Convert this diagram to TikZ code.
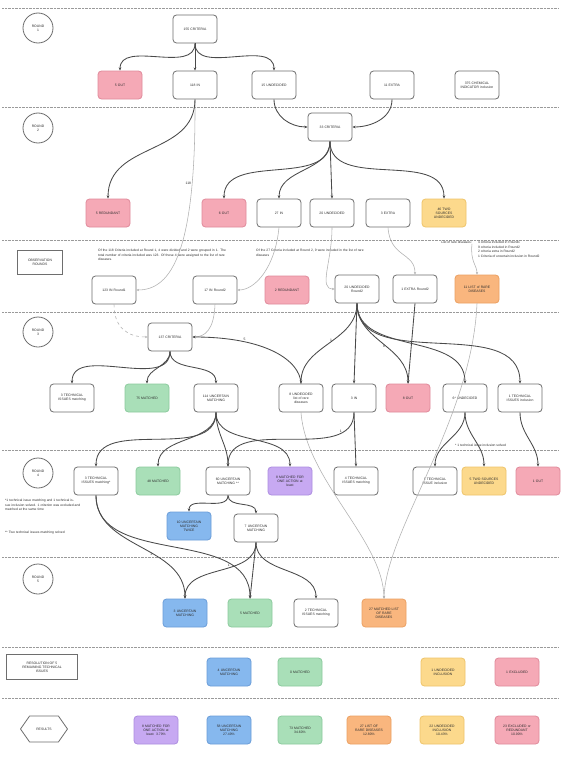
\documentclass[tikz,border=0pt]{standalone}
\usepackage{fontspec}
\setmainfont{Liberation Sans}
\usetikzlibrary{arrows.meta,shapes.symbols}
\definecolor{pinkF}{HTML}{F5A9B6}\definecolor{pinkD}{HTML}{E08A9B}
\definecolor{greenF}{HTML}{A9DFB8}\definecolor{greenD}{HTML}{8CCB9E}
\definecolor{blueF}{HTML}{86B8EE}\definecolor{blueD}{HTML}{6A9DD8}
\definecolor{yellowF}{HTML}{FCD98C}\definecolor{yellowD}{HTML}{EEC46A}
\definecolor{orangeF}{HTML}{F9B67E}\definecolor{orangeD}{HTML}{EBA062}
\definecolor{purpleF}{HTML}{C7A9F2}\definecolor{purpleD}{HTML}{AD8DE0}
\definecolor{boxdraw}{HTML}{6E6E6E}\definecolor{edgec}{HTML}{4A4A4A}
\definecolor{thinc}{HTML}{B0B0B0}\definecolor{sepc}{HTML}{9A9A9A}
\definecolor{textc}{HTML}{2E2E2E}
\begin{document}
\begin{tikzpicture}[x=1pt, y=1pt,
 font=\fontsize{3.4}{4.1}\selectfont,
 box/.style={rectangle, rounded corners=3.5pt, draw=boxdraw, line width=0.8pt, fill=white, minimum width=44pt, minimum height=28pt, text width=41pt, align=center, inner sep=0.5pt, text=textc},
 pinkbox/.style={box, fill=pinkF, draw=pinkD},
 greenbox/.style={box, fill=greenF, draw=greenD},
 bluebox/.style={box, fill=blueF, draw=blueD},
 yellowbox/.style={box, fill=yellowF, draw=yellowD},
 orangebox/.style={box, fill=orangeF, draw=orangeD},
 purplebox/.style={box, fill=purpleF, draw=purpleD},
 rnd/.style={circle, draw=boxdraw, line width=0.8pt, minimum size=30pt, align=center, inner sep=0pt, text=textc},
 sep/.style={draw=sepc, line width=0.9pt, dash pattern=on 0.8pt off 0.6pt},
 edge/.style={draw=edgec, line width=0.85pt, -{Stealth[length=3.2pt,width=2.6pt]}},
 thinedge/.style={draw=thinc, line width=0.55pt, -{Stealth[length=2.6pt,width=2.2pt]}},
 lbl/.style={text=textc, inner sep=0.8pt},
 note/.style={align=left, text=textc, inner sep=0pt, font=\fontsize{3.3}{4.7}\selectfont}
]
\useasboundingbox (0,0) rectangle (562,-784);
\fill[white] (0,0) rectangle (562,-784);
% separators
\foreach \yy in {8,107,240,312,450,557,647,698}{\draw[sep] (2,-\yy) -- (558,-\yy);}

% ROUND 1
\node[rnd] (c1) at (38,-28) {ROUND\\1};
\node[box] (n155) at (195,-29) {155 CRITERIA};
\node[pinkbox] (n5out) at (120,-85) {5 OUT};
\node[box] (n118) at (195,-85) {118 IN};
\node[box] (n15u) at (274,-85) {15 UNDECIDED};
\node[box] (n11e) at (392,-85) {11 EXTRA};
\node[box] (n375) at (477,-85) {375 CHEMICAL\\INDICATOR inclusion};

% ROUND 2
\node[rnd] (c2) at (38,-128) {ROUND\\2};
\node[box] (n33) at (330,-127) {33 CRITERIA};
\node[pinkbox] (n5red) at (108,-213) {5 REDUNDANT};
\node[pinkbox] (n6out) at (224,-213) {6 OUT};
\node[box] (n27) at (279,-213) {27 IN};
\node[box] (n20u) at (332,-213) {20 UNDECIDED};
\node[box] (n3e) at (388,-213) {3 EXTRA};
\node[yellowbox] (n46) at (444,-213) {46 TWO\\SOURCES\\UNDECIDED};

% OBSERVATION ROUNDS
\node[draw=boxdraw, line width=0.8pt, minimum width=45pt, minimum height=24pt, align=center, inner sep=0.5pt, text=textc] (obs) at (40,-262) {OBSERVATION\\ROUNDS};
\node[note, text width=128pt, anchor=north west] (t1) at (98,-249) {Of the 118 Criteria included at Round 1, 4 were divided and 2 were grouped in 1. The total number of criteria included was 123. Of these 4 were assigned to the list of rare diseases.};
\node[note, text width=112pt, anchor=north west] (t2) at (256,-249) {Of the 27 Criteria included at Round 2, 9 were included in the list of rare diseases};
\node[note, anchor=north east] (lrd) at (472,-241) {List of rare diseases:};
\node[note, anchor=north west] (lrdl) at (478,-241) {4 criteria included in Round1\\9 criteria included in Round2\\2 criteria extra in Round2\\1 Criteria of uncertain inclusion in Round2};
\node[box] (n123) at (114,-290) {123 IN Round1};
\node[box] (n17) at (215,-290) {17 IN Round2};
\node[pinkbox] (n2red) at (287,-290) {2 REDUNDANT};
\node[box] (n20r) at (357,-289) {20 UNDECIDED\\Round2};
\node[box] (n1e) at (415,-289) {1 EXTRA Round2};
\node[orangebox] (n11l) at (477,-289) {11 LIST of RARE\\DISEASES};

% ROUND 3
\node[rnd] (c3) at (38,-332) {ROUND\\3};
\node[box] (n137) at (170,-337) {137 CRITERIA};
\node[box] (n3t) at (72,-398) {3 TECHNICAL\\ISSUES matching};
\node[greenbox] (n75) at (147,-398) {75 MATCHED};
\node[box] (n114) at (216,-398) {114 UNCERTAIN\\MATCHING};
\node[box] (n8u) at (301,-398) {8 UNDECIDED\\list of rare\\diseases};
\node[box] (n3in) at (354,-398) {3 IN};
\node[pinkbox] (n8out) at (408,-398) {8 OUT};
\node[box] (n6u) at (465,-398) {6* UNDECIDED};
\node[box] (n1t) at (520,-398) {1 TECHNICAL\\ISSUES inclusion};
\node[note, anchor=west] (nt3) at (455,-445) {* 1 technical issue inclusion solved};

% ROUND 4
\node[rnd] (c4) at (38,-473) {ROUND\\4};
\node[box] (n3t4) at (96,-481) {3 TECHNICAL\\ISSUES matching*};
\node[greenbox] (n48) at (158,-481) {48 MATCHED};
\node[box] (n60) at (228,-481) {60 UNCERTAIN\\MATCHING **};
\node[purplebox] (n8m) at (290,-481) {8 MATCHED FOR\\ONE ACTION at\\least};
\node[box] (n4t) at (356,-481) {4 TECHNICAL\\ISSUES matching};
\node[box] (n1ti) at (435,-481) {1 TECHNICAL\\ISSUE inclusion};
\node[yellowbox] (n5two) at (484,-481) {5 TWO SOURCES\\UNDECIDED};
\node[pinkbox] (n1out) at (538,-481) {1 OUT};
\node[bluebox] (n10) at (189,-526) {10 UNCERTAIN\\MATCHING\\TWICE};
\node[box] (n7) at (256,-528) {7 UNCERTAIN\\MATCHING};
\node[note, text width=76pt, anchor=north west] (nt4a) at (5,-499) {*1 technical issue matching and 1 technical issue inclusion solved. 1 criterion was excluded and matched at the same time};
\node[note, text width=76pt, anchor=north west] (nt4b) at (5,-531) {** Two technical issues matching solved};

% ROUND 5
\node[rnd] (c5) at (38,-579) {ROUND\\5};
\node[bluebox] (n3u) at (185,-613) {3 UNCERTAIN\\MATCHING};
\node[greenbox] (n5m) at (250,-613) {5 MATCHED};
\node[box] (n2t) at (316,-613) {2 TECHNICAL\\ISSUES matching};
\node[orangebox] (n27l) at (384,-613) {27 MATCHED LIST\\OF RARE\\DISEASES};

% RESOLUTION
\node[draw=boxdraw, line width=0.8pt, minimum width=71pt, minimum height=25pt, align=center, inner sep=0.5pt, text=textc] (res) at (42,-667) {RESOLUTION OF 5\\REMAINING TECHNICAL\\ISSUES};
\node[bluebox] (n4u) at (229,-672) {4 UNCERTAIN\\MATCHING};
\node[greenbox] (n0m) at (300,-672) {0 MATCHED};
\node[yellowbox] (n1ui) at (443,-672) {1 UNDECIDED\\INCLUSION};
\node[pinkbox] (n1ex) at (517,-672) {1 EXCLUDED};

% RESULTS
\node[draw=boxdraw, line width=0.8pt, shape=signal, signal to=east and west, signal pointer angle=110, minimum width=47pt, minimum height=26pt, inner sep=0.5pt, text=textc] (results) at (44,-729) {RESULTS};
\node[purplebox] (r1) at (156,-730) {8 MATCHED FOR\\ONE ACTION at\\least: 3.79\%};
\node[bluebox] (r2) at (229,-730) {58 UNCERTAIN\\MATCHING\\27.49\%};
\node[greenbox] (r3) at (300,-730) {73 MATCHED\\34.60\%};
\node[orangebox] (r4) at (369,-730) {27 LIST OF\\RARE DISEASES\\12.80\%};
\node[yellowbox] (r5) at (442,-730) {22 UNDECIDED\\INCLUSION\\10.43\%};
\node[pinkbox] (r6) at (517,-730) {23 EXCLUDED or\\REDUNDANT\\10.90\%};

% ---- thin cross-section connectors
\draw[thinedge] (n118.south) .. controls (196,-250) and (172,-290) .. node[lbl, pos=0.22, left] {118} (n123.east);
\draw[thinedge] (n27.south) .. controls (275,-268) and (255,-290) .. (n17.east);
\draw[thinedge] (n20u.south) .. controls (332,-262) and (318,-289) .. (n20r.west);
\draw[thinedge] (n3e.south) .. controls (390,-258) and (415,-252) .. (n1e.north);
\draw[thinedge] (lrd.south east) .. controls (470,-262) and (477,-265) .. (n11l.north);
\draw[thinedge, dashed] (n123.south) .. controls (114,-328) and (128,-337) .. (n137.west);
\draw[thinedge] (n17.south) .. controls (214,-330) and (205,-337) .. (n137.east);
\draw[thinedge] (n11l.south) .. controls (472,-420) and (386,-530) .. (n27l.north);
\draw[thinedge] (n8u.south) .. controls (306,-480) and (383,-540) .. (n27l.north);

% ---- dark connectors
\draw[edge] (n155.south) to[out=-90,in=90] (n5out.north);
\draw[edge] (n155.south) -- (n118.north);
\draw[edge] (n155.south) to[out=-90,in=90] (n15u.north);
\draw[edge] (n15u.south) to[out=-90,in=180] (n33.west);
\draw[edge] (n11e.south) to[out=-90,in=0] (n33.east);

\draw[edge] (n118.south) to[out=-90,in=90, looseness=1.1] (n5red.north);
\draw[edge] (n33.south) to[out=-90,in=90] (n6out.north);
\draw[edge] (n33.south) to[out=-90,in=90] (n27.north);
\draw[edge] (n33.south) -- (n20u.north);
\draw[edge] (n33.south) to[out=-90,in=90] (n46.north);

\draw[edge] (n8u.north) .. controls (300,-360) and (265,-337) .. node[lbl, pos=0.72, above] {5} (n137.east);
\draw[edge] (n20r.south) to[out=-90,in=90] node[lbl, pos=0.45, left] {1} (n8u.north);
\draw[edge] (n20r.south) -- (n3in.north);
\draw[edge] (n20r.south) to[out=-90,in=90] node[lbl, pos=0.55, left] {8} (n8out.north);
\draw[edge] (n20r.south) to[out=-90,in=90] (n6u.north);
\draw[edge] (n20r.south) to[out=-90,in=90] (n1t.north);
\draw[edge] (n1e.south) -- (n8out.north);
\draw[edge] (n137.south) to[out=-90,in=90] (n3t.north);
\draw[edge] (n137.south) to[out=-90,in=90] (n75.north);
\draw[edge] (n137.south) to[out=-90,in=90] (n114.north);

\draw[edge] (n114.south) to[out=-90,in=90] (n3t4.north);
\draw[edge] (n114.south) to[out=-90,in=90] (n48.north);
\draw[edge] (n114.south) to[out=-90,in=90] (n60.north);
\draw[edge] (n114.south) to[out=-90,in=90] (n8m.north);
\draw[edge] (n3in.south) to[out=-90,in=90] node[lbl, pos=0.2, above] {1} (n60.north);
\draw[edge] (n3in.south) -- (n4t.north);
\draw[edge] (n6u.south) to[out=-90,in=90] (n1ti.north);
\draw[edge] (n6u.south) to[out=-90,in=90] (n5two.north);
\draw[edge] (n1t.south) to[out=-90,in=90] (n1out.north);
\draw[edge] (n60.south) to[out=-90,in=90] (n10.north);
\draw[edge] (n60.south) to[out=-90,in=90] (n7.north);

\draw[edge] (n3t4.south) to[out=-90,in=90] node[lbl, pos=0.6, left] {2} (n3u.north);
\draw[edge] (n3t4.south) to[out=-90,in=90] node[lbl, pos=0.78, left] {1} (n5m.north);
\draw[edge] (n7.south) to[out=-90,in=90] (n3u.north);
\draw[edge] (n7.south) -- (n5m.north);
\draw[edge] (n7.south) to[out=-90,in=90] (n2t.north);
\end{tikzpicture}
\end{document}
